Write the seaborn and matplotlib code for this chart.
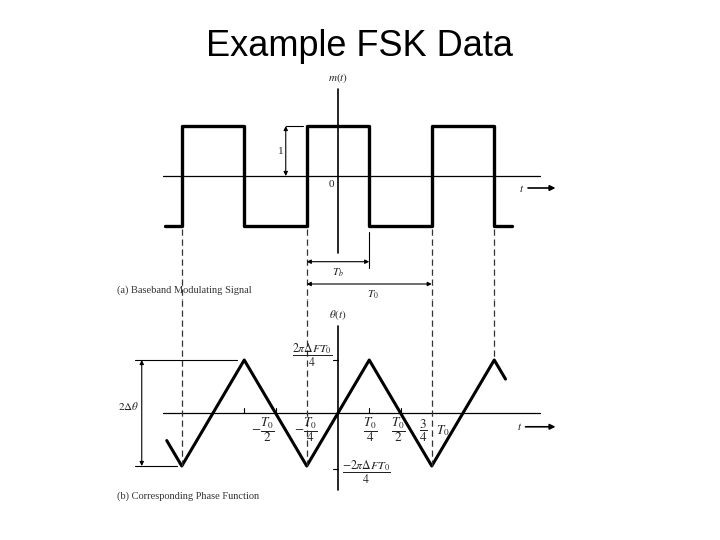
import matplotlib
matplotlib.use("Agg")
from matplotlib import pyplot as plt
import seaborn as sns
import pandas as pd

# time in units of T0, m(t) in [-1, 1], theta normalised to its peak
m_times = [-1.384, -1.25, -0.75, -0.25, 0.25, 0.75, 1.25, 1.39]
m_values = [-1, 1, -1, 1, -1, 1, -1, -1]
theta_times = [-1.37, -1.25, -0.75, -0.25, 0.25, 0.75, 1.25, 1.34]
theta_values = [-0.52, -1, 1, -1, 1, -1, 1, 0.64]
edge_times = [-1.25, -0.25, 0.75, 1.25]
theta_ticks = [-0.75, -0.5, 0.25, 0.5]
tick_labels = [(-0.6, r"$-\dfrac{T_0}{2}$"), (-0.256, r"$-\dfrac{T_0}{4}$"),
               (0.256, r"$\dfrac{T_0}{4}$"), (0.48, r"$\dfrac{T_0}{2}$"),
               (0.68, r"$\dfrac{3}{4}$"), (0.84, r"$T_0$")]

sns.set_theme(style="white")
plt.rcParams["font.family"] = ["Liberation Serif", "DejaVu Serif"]
plt.rcParams["mathtext.fontset"] = "stix"

fig = plt.figure(figsize=(7.2, 5.4), dpi=100)
xlim = (-338 / 125, (720 - 338) / 125)
ax1 = fig.add_axes([0, 240 / 540, 1, 240 / 540])
ax2 = fig.add_axes([0, 0, 1, 240 / 540])
ax1.set_xlim(xlim)
ax1.set_ylim(-2.48, 2.32)
ax2.set_xlim(xlim)
ax2.set_ylim(-2.396, 2.132)
for ax in (ax1, ax2):
    ax.set_axis_off()

txt = "#222222"
dash = dict(color="#333333", lw=0.9, ls=(0, (5, 3)))
arrow = dict(arrowstyle="<|-|>", color="black", lw=0.8, mutation_scale=6,
             shrinkA=0, shrinkB=0)
right = dict(arrowstyle="-|>", color="black", lw=1.2, mutation_scale=8,
             shrinkA=0, shrinkB=0)

fig.text(0.5, 1 - 46 / 540, "Example FSK Data", ha="center", va="center",
         fontsize=26, family="Liberation Sans", color="black")

# (a) baseband signal
ax1.plot([-1.4, 1.616], [0, 0], color="black", lw=0.9)
ax1.plot([0, 0], [-1.54, 1.74], color="black", lw=1.2)
sns.lineplot(x=m_times, y=m_values, ax=ax1, color="black", lw=2.4,
             drawstyle="steps-post", estimator=None, sort=False)
for t in edge_times:
    ax1.plot([t, t], [-1.06, -2.48], **dash)
ax1.annotate("", xy=(-0.418, 1), xytext=(-0.418, 0), arrowprops=arrow)
ax1.plot([-0.42, -0.28], [1, 1], color="black", lw=0.8)
ax1.text(-0.46, 0.5, "1", ha="center", va="center", fontsize=8, color=txt)
ax1.text(-0.05, -0.17, "0", ha="center", va="center", fontsize=8, color=txt)
ax1.text(0, 1.96, r"$m(t)$", ha="center", va="center", fontsize=8, color=txt)
ax1.text(1.47, -0.24, r"$t$", ha="center", va="center", fontsize=8, color=txt)
ax1.annotate("", xy=(1.74, -0.24), xytext=(1.52, -0.24), arrowprops=right)
ax1.plot([0.25, 0.25], [-1.12, -1.84], color="black", lw=0.8)
ax1.annotate("", xy=(0.25, -1.714), xytext=(-0.25, -1.714), arrowprops=arrow)
ax1.text(0, -1.94, r"$T_b$", ha="center", va="center", fontsize=8, color=txt)
ax1.annotate("", xy=(0.75, -2.16), xytext=(-0.25, -2.16), arrowprops=arrow)
ax1.text(0.28, -2.38, r"$T_0$", ha="center", va="center", fontsize=8, color=txt)
ax1.text(-1.768, -2.28, "(a) Baseband Modulating Signal", ha="left",
         va="center", fontsize=7.5, color="#333333")

# (b) phase function
ax2.plot([-1.4, 1.616], [0, 0], color="black", lw=0.9)
ax2.plot([0, 0], [-1.45, 1.64], color="black", lw=1.2)
sns.lineplot(x=theta_times, y=theta_values, ax=ax2, color="black", lw=2.2,
             estimator=None, sort=False)
for t in edge_times[:3]:
    ax2.plot([t, t], [2.132, -1], **dash)
ax2.plot([edge_times[3], edge_times[3]], [2.132, 1], **dash)
for t in theta_ticks:
    ax2.plot([t, t], [0, 0.1], color="black", lw=0.8)
for v in (1, -1.05):
    ax2.plot([-0.04, 0], [v, v], color="black", lw=0.8)
for t, lab in tick_labels:
    ax2.text(t, -0.33, lab, ha="center", va="center", fontsize=9.5, color=txt)
ax2.text(0, 1.85, r"$\theta(t)$", ha="center", va="center", fontsize=8, color=txt)
ax2.text(-0.04, 1.08, r"$\dfrac{2\pi\Delta FT_0}{4}$", ha="right", va="center",
         fontsize=8.5, color=txt)
ax2.text(0.03, -1.12, r"$\dfrac{-2\pi\Delta FT_0}{4}$", ha="left", va="center",
         fontsize=8.5, color=txt)
ax2.text(1.456, -0.26, r"$t$", ha="center", va="center", fontsize=8, color=txt)
ax2.annotate("", xy=(1.74, -0.26), xytext=(1.50, -0.26), arrowprops=right)
ax2.annotate("", xy=(-1.57, 1), xytext=(-1.57, -1), arrowprops=arrow)
ax2.plot([-1.624, -0.808], [1, 1], color="black", lw=0.8)
ax2.plot([-1.624, -1.288], [-1, -1], color="black", lw=0.8)
ax2.text(-1.59, 0.13, r"$2\Delta\theta$", ha="right", va="center", fontsize=8,
         color=txt)
ax2.text(-1.768, -1.566, "(b) Corresponding Phase Function", ha="left",
         va="center", fontsize=7.5, color="#333333")

fig.savefig("out.png", dpi=100, facecolor="white")
